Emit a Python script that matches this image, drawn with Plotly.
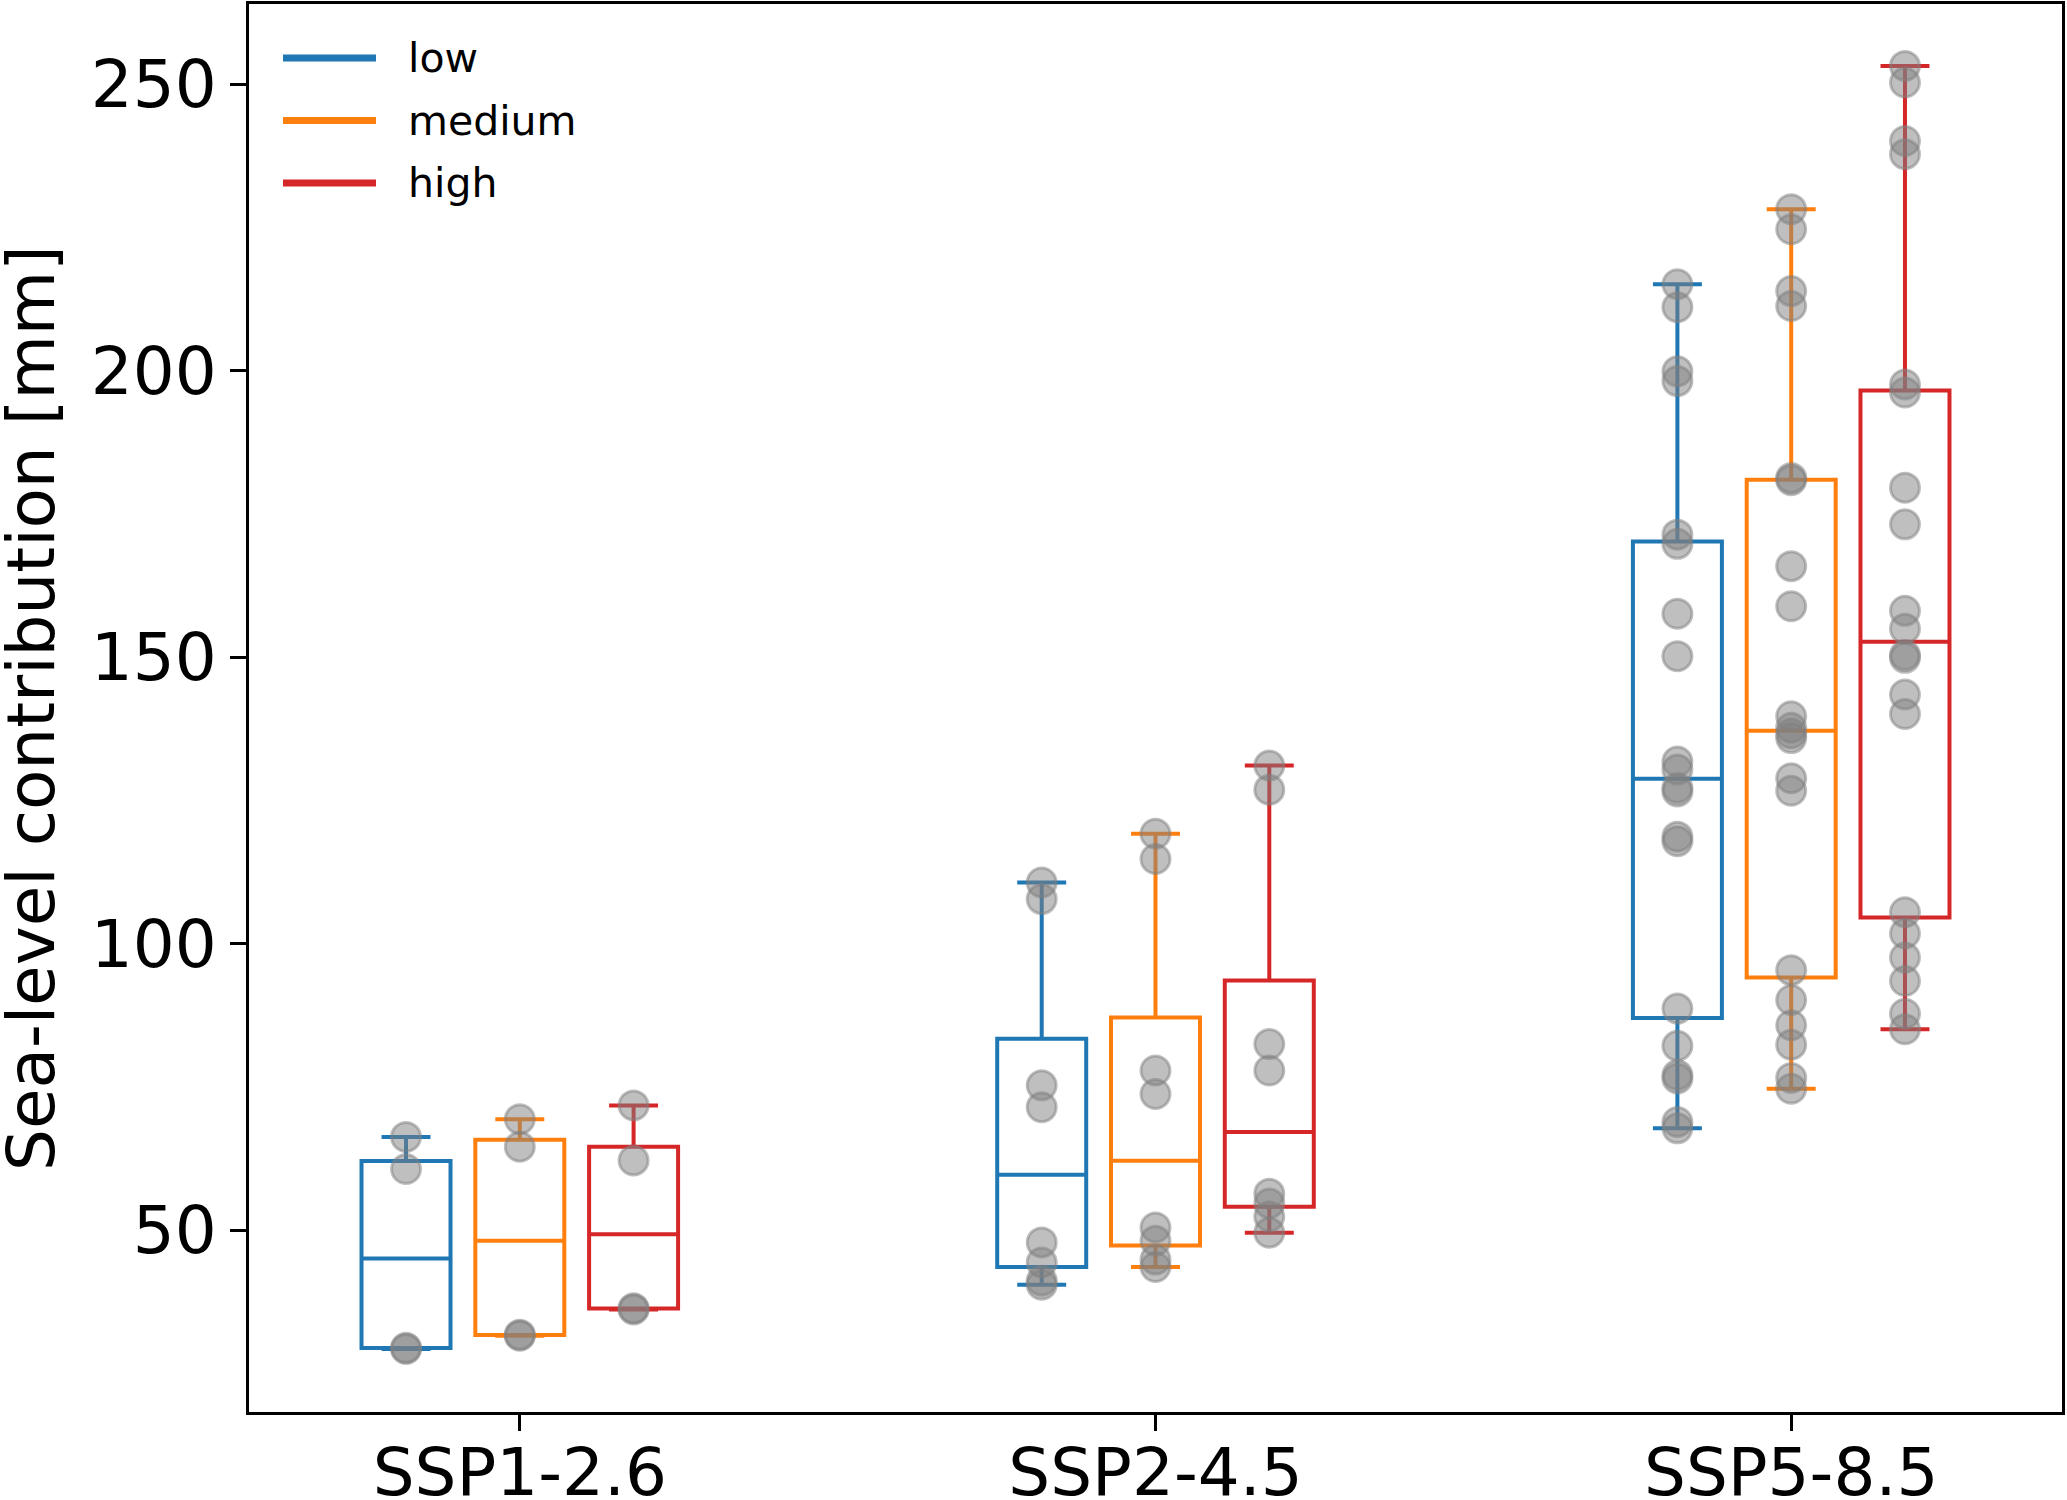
import numpy as np
import plotly.graph_objects as go

# scenarios on the x axis and the three levels shown per scenario
scenarios = ["SSP1-2.6", "SSP2-4.5", "SSP5-8.5"]
levels = ["low", "medium", "high"]
colors = ["#1f77b4", "#ff7f0e", "#d62728"]

# sea-level contribution [mm], one value per model run
ssp126_low = [66.3, 60.7, 29.5, 29.3]
ssp126_medium = [69.4, 64.6, 31.8, 31.6]
ssp126_high = [71.8, 62.2, 36.4, 36.2]

ssp245_low = [110.7, 107.8, 75.3, 71.5, 47.9, 44.4, 41.2, 40.5]
ssp245_medium = [119.2, 114.8, 77.9, 73.8, 50.5, 48.2, 44.9, 43.6]
ssp245_high = [131.1, 126.9, 82.5, 77.9, 56.4, 54.7, 52.4, 49.6]

ssp585_low = [215.1, 211.1, 199.9, 198.2, 171.4, 169.8, 157.6, 150.2, 131.8, 130.4,
              127.2, 126.6, 118.7, 117.9, 88.7, 82.2, 77.1, 76.5, 68.9, 67.8]
ssp585_medium = [228.2, 224.7, 213.9, 211.3, 181.3, 180.9, 165.9, 158.9, 139.7, 137.7,
                 136.7, 135.9, 128.9, 126.7, 95.4, 90.2, 85.8, 82.4, 76.6, 74.7]
ssp585_high = [253.2, 250.3, 240.1, 237.8, 197.6, 196.2, 179.6, 173.2, 158.1, 155.0,
               150.4, 149.9, 143.5, 140.1, 105.5, 101.8, 97.6, 93.5, 87.8, 85.1]

y_ticks = [50, 100, 150, 200, 250]
y_title = "Sea-level contribution [mm]"

groups = [
    [ssp126_low, ssp126_medium, ssp126_high],
    [ssp245_low, ssp245_medium, ssp245_high],
    [ssp585_low, ssp585_medium, ssp585_high],
]

FONT = "DejaVu Sans"
W, H = 2067, 1500
L, R, T, B = 249, 5, 4, 88
offsets = [-0.179, 0.0, 0.179]

fig = go.Figure()

# boxes (matplotlib-style stats: linear percentiles, 1.5 IQR whiskers)
for i, scen in enumerate(scenarios):
    for j, lev in enumerate(levels):
        vals = np.array(groups[i][j])
        q1, med, q3 = np.percentile(vals, [25, 50, 75])
        iqr = q3 - q1
        lo = vals[vals >= q1 - 1.5 * iqr].min()
        hi = vals[vals <= q3 + 1.5 * iqr].max()
        fig.add_trace(go.Box(
            x=[i + offsets[j]], q1=[q1], median=[med], q3=[q3],
            lowerfence=[lo], upperfence=[hi],
            width=0.14, whiskerwidth=0.55,
            line=dict(color=colors[j], width=4),
            fillcolor="rgba(0,0,0,0)",
            boxpoints=False, showlegend=False, hoverinfo="skip",
        ))

# individual runs on top
for i, scen in enumerate(scenarios):
    for j, lev in enumerate(levels):
        vals = groups[i][j]
        fig.add_trace(go.Scatter(
            x=[i + offsets[j]] * len(vals), y=vals, mode="markers",
            marker=dict(size=29, color="rgba(128,128,128,0.5)",
                        line=dict(color="rgba(128,128,128,0.5)", width=3)),
            showlegend=False, hoverinfo="skip",
        ))

# hand-drawn legend in the upper left corner
pw, ph = W - L - R, H - T - B
def px(xp):
    return (xp - L) / pw
def py(yp):
    return (H - B - yp) / ph

shapes = []
annotations = []
for j, lev in enumerate(levels):
    yl = 58 + j * 62.5
    shapes.append(dict(type="line", xref="paper", yref="paper",
                       x0=px(283), x1=px(376), y0=py(yl), y1=py(yl),
                       line=dict(color=colors[j], width=7)))
    annotations.append(dict(text=lev, xref="paper", yref="paper",
                            x=px(406), y=py(yl), xanchor="left", yanchor="middle",
                            showarrow=False, font=dict(family=FONT, size=41, color="black")))

# y axis title as a rotated annotation (axis titles get squeezed by the margin)
annotations.append(dict(text=y_title, xref="paper", yref="paper",
                        x=px(31), y=0.5, xanchor="center", yanchor="middle",
                        textangle=-90, showarrow=False,
                        font=dict(family=FONT, size=66, color="black")))

axis_style = dict(showline=True, mirror=True, linecolor="black", linewidth=3,
                  ticks="outside", ticklen=16, tickwidth=3, tickcolor="black",
                  showgrid=False, zeroline=False,
                  tickfont=dict(family=FONT, size=66, color="black"))

fig.update_layout(
    width=W, height=H,
    margin=dict(l=L, r=R, t=T, b=B),
    paper_bgcolor="white", plot_bgcolor="white",
    font=dict(family=FONT, color="black"),
    shapes=shapes, annotations=annotations,
    xaxis=dict(range=[-0.426, 2.426], tickvals=[0, 1, 2], ticktext=scenarios,
               ticklabelstandoff=-15, automargin=False, **axis_style),
    yaxis=dict(range=[18.3, 264.0], tickvals=y_ticks,
               automargin=False, **axis_style),
)

fig.write_html("out.html", config={"displayModeBar": False},
               post_script="document.body.style.margin='0';")
